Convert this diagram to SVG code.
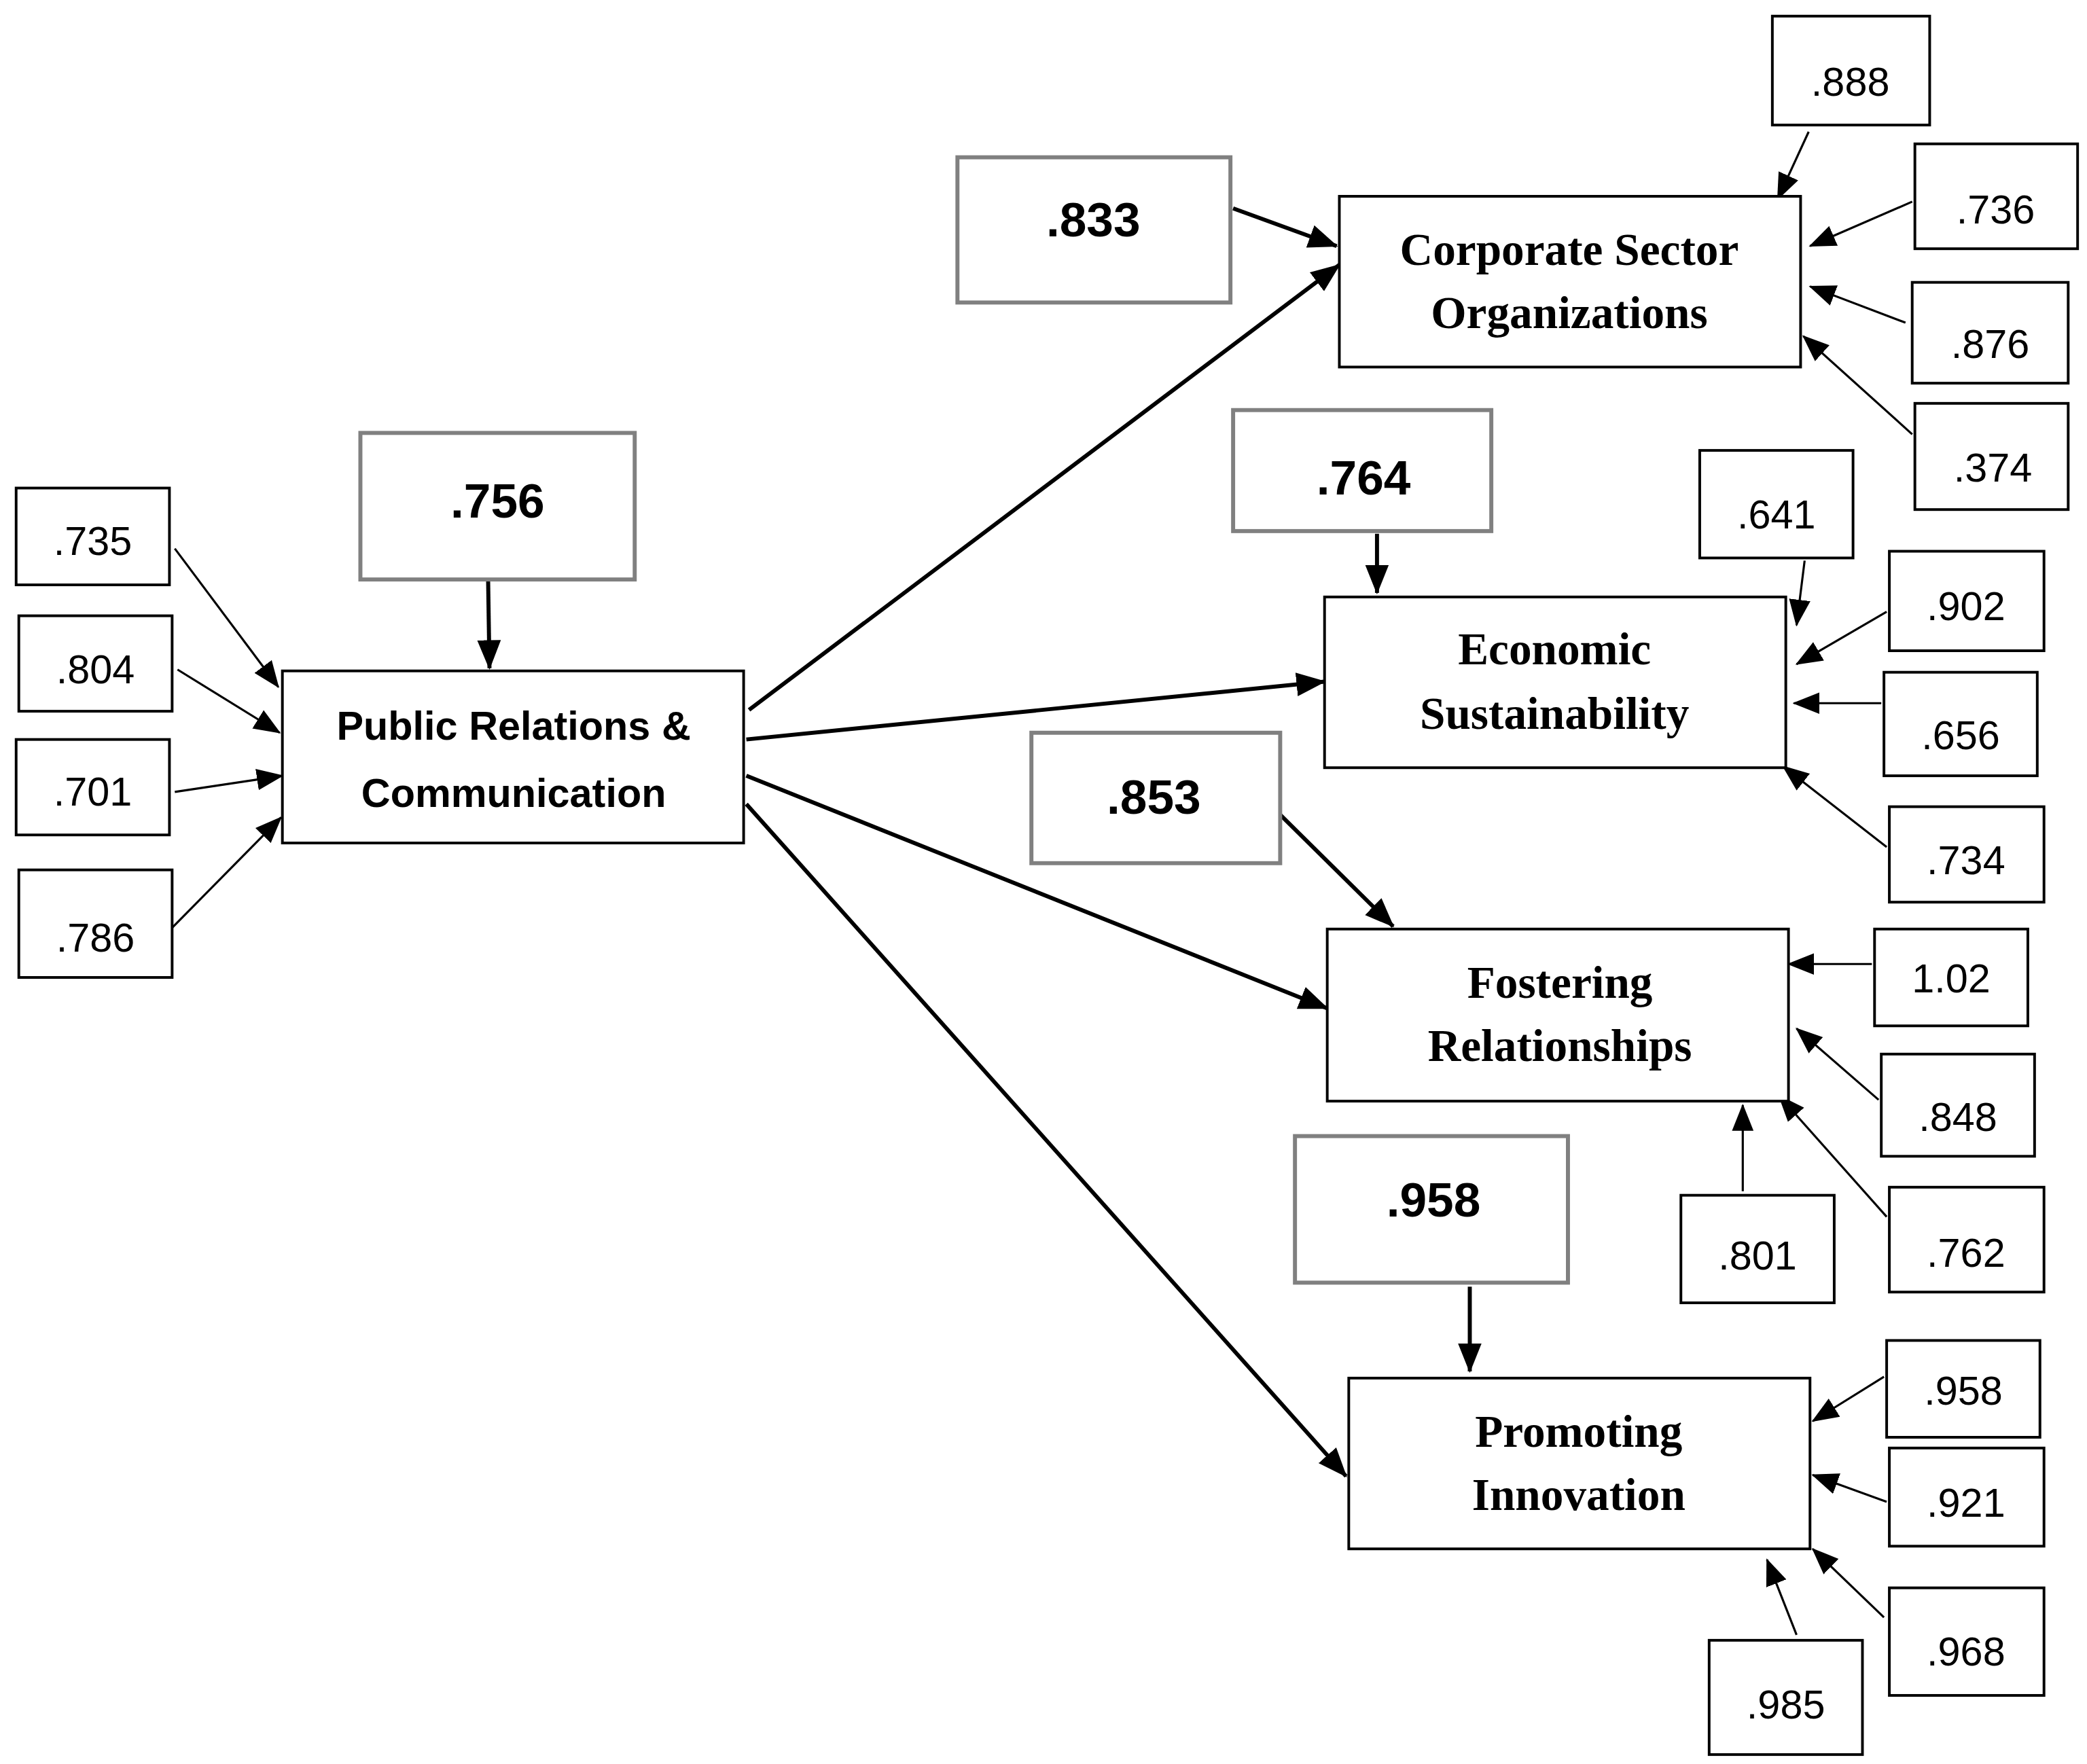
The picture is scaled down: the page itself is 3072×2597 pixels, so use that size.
<svg xmlns="http://www.w3.org/2000/svg" width="3072" height="2597" viewBox="0 0 3072 2597">
<style>
.b{fill:#fff;stroke:#000;stroke-width:2}
.g{fill:#fff;stroke:#808080;stroke-width:3}
.s{font-family:"Liberation Sans",Arial,sans-serif;font-size:30px;text-anchor:middle}
.v{font-family:"Liberation Sans",Arial,sans-serif;font-size:36px;font-weight:bold;text-anchor:middle}
.n{font-family:"Liberation Serif","Times New Roman",serif;font-size:34px;font-weight:bold;text-anchor:middle}
.p{font-family:"Liberation Sans",Arial,sans-serif;font-size:30px;font-weight:bold;text-anchor:middle}
.a{stroke:#000;stroke-width:1.6;fill:none;marker-end:url(#m)}
.t{stroke:#000;stroke-width:3;fill:none;marker-end:url(#m2)}
</style>
<defs>
<marker id="m" markerUnits="userSpaceOnUse" markerWidth="20" markerHeight="20" viewBox="0 0 20 20" refX="19" refY="10" orient="auto"><path d="M0,2 L20,10 L0,18 Z"/></marker>
<marker id="m2" markerUnits="userSpaceOnUse" markerWidth="22" markerHeight="22" viewBox="0 0 20 20" refX="19" refY="10" orient="auto"><path d="M0,2 L20,10 L0,18 Z"/></marker>
</defs>
<rect width="3072" height="2597" fill="#fff"/>
<g transform="scale(1.9794)">
<g id="connectors">
<line class="a" x1="1345" y1="98" x2="1322" y2="148"/>
<line class="a" x1="1422" y1="150" x2="1346" y2="183"/>
<line class="a" x1="1417" y1="240" x2="1346" y2="213"/>
<line class="a" x1="1422" y1="323" x2="1341" y2="250"/>
<line class="t" x1="917" y1="155" x2="994" y2="183"/>
<line class="t" x1="557" y1="528" x2="996" y2="197"/>
<line class="t" x1="555" y1="550" x2="985" y2="507"/>
<line class="t" x1="555" y1="577" x2="987" y2="750"/>
<line class="t" x1="555" y1="598" x2="1001" y2="1098"/>
<line class="t" x1="363" y1="432" x2="364" y2="497"/>
<line class="a" x1="130" y1="408" x2="207" y2="511"/>
<line class="a" x1="132" y1="498" x2="208" y2="545"/>
<line class="a" x1="130" y1="589" x2="210" y2="577"/>
<line class="a" x1="128" y1="690" x2="209" y2="608"/>
<line class="t" x1="1024" y1="397" x2="1024" y2="441"/>
<line class="a" x1="1342" y1="417" x2="1336" y2="465"/>
<line class="a" x1="1403" y1="455" x2="1336" y2="494"/>
<line class="a" x1="1399" y1="523" x2="1334" y2="523"/>
<line class="a" x1="1403" y1="630" x2="1326" y2="570"/>
<line class="t" x1="948" y1="602" x2="1036" y2="689"/>
<line class="a" x1="1392" y1="717" x2="1330" y2="717"/>
<line class="a" x1="1397" y1="818" x2="1336" y2="765"/>
<line class="a" x1="1403" y1="905" x2="1323" y2="815"/>
<line class="a" x1="1296" y1="886" x2="1296" y2="822"/>
<line class="t" x1="1093" y1="957" x2="1093" y2="1020"/>
<line class="a" x1="1401" y1="1024" x2="1348" y2="1057"/>
<line class="a" x1="1403" y1="1117" x2="1348" y2="1097"/>
<line class="a" x1="1401" y1="1203" x2="1348" y2="1152"/>
<line class="a" x1="1336" y1="1216" x2="1314" y2="1160"/>
</g>
<g id="pr"><rect class="b" x="210" y="499" width="343" height="128"/><text class="p" x="382" y="550">Public Relations &amp;</text><text class="p" x="382" y="600">Communication</text></g>
<g id="corp"><rect class="b" x="996" y="146" width="343" height="127"/><text class="n" x="1167" y="197">Corporate Sector</text><text class="n" x="1167" y="244">Organizations</text></g>
<g id="econ"><rect class="b" x="985" y="444" width="343" height="127"/><text class="n" x="1156" y="494">Economic</text><text class="n" x="1156" y="542">Sustainability</text></g>
<g id="fost"><rect class="b" x="987" y="691" width="343" height="128"/><text class="n" x="1160" y="742">Fostering</text><text class="n" x="1160" y="789">Relationships</text></g>
<g id="prom"><rect class="b" x="1003" y="1025" width="343" height="127"/><text class="n" x="1174" y="1076">Promoting</text><text class="n" x="1174" y="1123">Innovation</text></g>
<g id="v833"><rect class="g" x="712" y="117" width="203" height="108"/><text class="v" x="813" y="176">.833</text></g>
<g id="v756"><rect class="g" x="268" y="322" width="204" height="109"/><text class="v" x="370" y="385">.756</text></g>
<g id="v764"><rect class="g" x="917" y="305" width="192" height="90"/><text class="v" x="1014" y="368">.764</text></g>
<g id="v853"><rect class="g" x="767" y="545" width="185" height="97"/><text class="v" x="858" y="605">.853</text></g>
<g id="v958b"><rect class="g" x="963" y="845" width="203" height="109"/><text class="v" x="1066" y="905">.958</text></g>
<g id="e888"><rect class="b" x="1318" y="12" width="117" height="81"/><text class="s" x="1376" y="71">.888</text></g>
<g id="e736"><rect class="b" x="1424" y="107" width="121" height="78"/><text class="s" x="1484" y="166">.736</text></g>
<g id="e876"><rect class="b" x="1422" y="210" width="116" height="75"/><text class="s" x="1480" y="266">.876</text></g>
<g id="e374"><rect class="b" x="1424" y="300" width="114" height="79"/><text class="s" x="1482" y="358">.374</text></g>
<g id="e735"><rect class="b" x="12" y="363" width="114" height="72"/><text class="s" x="69" y="413">.735</text></g>
<g id="e804"><rect class="b" x="14" y="458" width="114" height="71"/><text class="s" x="71" y="508">.804</text></g>
<g id="e701"><rect class="b" x="12" y="550" width="114" height="71"/><text class="s" x="69" y="599">.701</text></g>
<g id="e786"><rect class="b" x="14" y="647" width="114" height="80"/><text class="s" x="71" y="708">.786</text></g>
<g id="e641"><rect class="b" x="1264" y="335" width="114" height="80"/><text class="s" x="1321" y="393">.641</text></g>
<g id="e902"><rect class="b" x="1405" y="410" width="115" height="74"/><text class="s" x="1462" y="461">.902</text></g>
<g id="e656"><rect class="b" x="1401" y="500" width="114" height="77"/><text class="s" x="1458" y="557">.656</text></g>
<g id="e734"><rect class="b" x="1405" y="600" width="115" height="71"/><text class="s" x="1462" y="650">.734</text></g>
<g id="e102"><rect class="b" x="1394" y="691" width="114" height="72"/><text class="s" x="1451" y="738">1.02</text></g>
<g id="e848"><rect class="b" x="1399" y="784" width="114" height="76"/><text class="s" x="1456" y="841">.848</text></g>
<g id="e762"><rect class="b" x="1405" y="883" width="115" height="78"/><text class="s" x="1462" y="942">.762</text></g>
<g id="e801"><rect class="b" x="1250" y="889" width="114" height="80"/><text class="s" x="1307" y="944">.801</text></g>
<g id="e958"><rect class="b" x="1403" y="997" width="114" height="72"/><text class="s" x="1460" y="1045">.958</text></g>
<g id="e921"><rect class="b" x="1405" y="1077" width="115" height="73"/><text class="s" x="1462" y="1128">.921</text></g>
<g id="e968"><rect class="b" x="1405" y="1181" width="115" height="80"/><text class="s" x="1462" y="1239">.968</text></g>
<g id="e985"><rect class="b" x="1271" y="1220" width="114" height="85"/><text class="s" x="1328" y="1278">.985</text></g>
</g>
</svg>
